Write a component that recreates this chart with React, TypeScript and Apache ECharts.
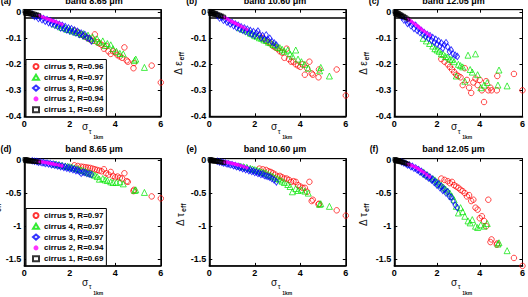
import React, { useEffect, useRef } from 'react';
import * as echarts from 'echarts';

// Band titles, panel tags and tick values
const bandTitles = ['band 8.65 μm', 'band 10.60 μm', 'band 12.05 μm'];
const panelTags = ['(a)', '(b)', '(c)', '(d)', '(e)', '(f)'];
const xTicks = [0, 2, 4, 6];
const epsTicks = [-0.4, -0.3, -0.2, -0.1, 0];
const tauTicks = [-1.5, -1, -0.5, 0];

// Legend entries (cirrus 5 .. cirrus 1) with correlation coefficients
const cirrusIds = [5, 4, 3, 2, 1];
const rEps = [0.96, 0.97, 0.96, 0.94, 0.69];
const rTau = [0.97, 0.97, 0.97, 0.94, 0.69];

// sigma of tau_1km for every pixel of each cirrus case
const sig1 = [0.02, 0.04, 0.06, 0.08, 0.1, 0.12, 0.14, 0.16, 0.18, 0.2, 0.23, 0.26, 0.29, 0.32, 0.36, 0.4, 0.45, 0.5, 0.56, 0.64];
const sig2 = [0.62, 0.72, 0.8, 0.9, 1.0, 1.08, 1.15, 1.22, 1.3, 1.4, 1.52, 1.65];
const sig3 = [0.35, 0.45, 0.55, 0.62, 0.7, 0.78, 0.85, 0.92, 1.0, 1.07, 1.14, 1.2, 1.27, 1.34, 1.4, 1.47, 1.54, 1.6, 1.67, 1.74, 1.8, 1.87, 1.94, 2.0, 2.07, 2.14, 2.2, 2.27, 2.34, 2.42, 2.5, 2.58, 2.66, 2.75, 2.85, 2.95];
const sig4 = [1.35, 1.5, 1.65, 1.8, 1.9, 2.0, 2.1, 2.2, 2.3, 2.4, 2.5, 2.6, 2.7, 2.8, 2.9, 3.0, 3.1, 3.2, 3.3, 3.45, 3.55, 3.65, 3.8, 3.9, 4.05, 4.2, 4.35, 4.85, 4.9, 5.28];
const sig5 = [2.2, 2.35, 2.5, 2.6, 2.7, 2.8, 2.9, 3.0, 3.1, 3.2, 3.3, 3.4, 3.5, 3.6, 3.7, 3.8, 3.9, 4.0, 4.1, 4.2, 4.3, 4.4, 4.5, 4.55, 4.8, 4.82, 5.6, 6.0];

// cirrus 1: delta emissivity / delta optical depth per band
const c1Eps865 = [0.004, -0.004, 0.003, -0.005, 0.002, -0.004, 0.002, -0.006, 0.001, -0.005, -0.001, -0.007, -0.002, -0.008, -0.004, -0.009, -0.006, -0.01, -0.009, -0.012];
const c1Eps1060 = [0.004, -0.005, 0.003, -0.006, 0.001, -0.006, 0, -0.007, -0.001, -0.008, -0.003, -0.009, -0.004, -0.011, -0.007, -0.012, -0.01, -0.014, -0.014, -0.018];
const c1Eps1205 = [0.003, -0.005, 0.002, -0.007, 0, -0.008, -0.002, -0.009, -0.003, -0.011, -0.005, -0.013, -0.008, -0.015, -0.011, -0.017, -0.015, -0.02, -0.021, -0.026];
const c1Tau865 = [0.01, -0.01, 0.008, -0.012, 0.005, -0.013, 0.003, -0.015, 0, -0.016, -0.004, -0.018, -0.008, -0.02, -0.012, -0.022, -0.017, -0.026, -0.024, -0.03];
const c1Tau1060 = [0.01, -0.01, 0.008, -0.012, 0.004, -0.014, 0.001, -0.016, -0.002, -0.018, -0.007, -0.021, -0.011, -0.024, -0.016, -0.028, -0.022, -0.033, -0.032, -0.04];
const c1Tau1205 = [0.01, -0.01, 0.007, -0.013, 0.003, -0.016, -0.001, -0.019, -0.005, -0.022, -0.011, -0.027, -0.017, -0.032, -0.024, -0.038, -0.032, -0.046, -0.05, -0.062];

// cirrus 2
const c2Eps865 = [-0.012, -0.015, -0.018, -0.021, -0.025, -0.027, -0.029, -0.032, -0.034, -0.037, -0.041, -0.046];
const c2Eps1060 = [-0.018, -0.022, -0.026, -0.031, -0.036, -0.039, -0.042, -0.046, -0.049, -0.054, -0.059, -0.066];
const c2Eps1205 = [-0.025, -0.03, -0.035, -0.041, -0.047, -0.052, -0.057, -0.062, -0.067, -0.073, -0.08, -0.088];
const c2Tau865 = [-0.02, -0.025, -0.03, -0.036, -0.042, -0.047, -0.052, -0.057, -0.062, -0.068, -0.077, -0.088];
const c2Tau1060 = [-0.025, -0.03, -0.036, -0.043, -0.051, -0.057, -0.063, -0.069, -0.076, -0.086, -0.1, -0.116];
const c2Tau1205 = [-0.06, -0.07, -0.08, -0.095, -0.11, -0.125, -0.14, -0.155, -0.17, -0.19, -0.22, -0.25];

// cirrus 3
const c3Eps865 = [-0.008, -0.016, -0.015, -0.024, -0.019, -0.029, -0.024, -0.034, -0.028, -0.04, -0.033, -0.045, -0.037, -0.05, -0.042, -0.055, -0.046, -0.06, -0.05, -0.063, -0.055, -0.068, -0.06, -0.072, -0.063, -0.076, -0.068, -0.08, -0.073, -0.085, -0.08, -0.09, -0.085, -0.098, -0.1, -0.11];
const c3Eps1060 = [-0.012, -0.022, -0.02, -0.031, -0.027, -0.038, -0.033, -0.045, -0.039, -0.052, -0.045, -0.058, -0.05, -0.064, -0.056, -0.069, -0.06, -0.074, -0.065, -0.079, -0.07, -0.084, -0.074, -0.089, -0.08, -0.072, -0.085, -0.098, -0.09, -0.103, -0.087, -0.106, -0.1, -0.113, -0.118, -0.126];
const c3Eps1205 = [-0.018, -0.03, -0.03, -0.043, -0.038, -0.052, -0.046, -0.062, -0.05, -0.07, -0.062, -0.078, -0.07, -0.086, -0.078, -0.094, -0.085, -0.1, -0.09, -0.108, -0.097, -0.115, -0.104, -0.122, -0.11, -0.13, -0.118, -0.138, -0.125, -0.117, -0.133, -0.152, -0.145, -0.16, -0.165, -0.17];
const c3Tau865 = [-0.012, -0.02, -0.022, -0.032, -0.03, -0.042, -0.038, -0.052, -0.046, -0.06, -0.054, -0.07, -0.062, -0.08, -0.07, -0.09, -0.08, -0.1, -0.09, -0.112, -0.1, -0.124, -0.112, -0.136, -0.124, -0.148, -0.136, -0.16, -0.15, -0.175, -0.2, -0.185, -0.19, -0.205, -0.21, -0.22];
const c3Tau1060 = [-0.018, -0.028, -0.032, -0.045, -0.044, -0.058, -0.056, -0.072, -0.068, -0.086, -0.082, -0.1, -0.095, -0.115, -0.108, -0.13, -0.122, -0.145, -0.136, -0.16, -0.15, -0.175, -0.165, -0.19, -0.18, -0.205, -0.195, -0.22, -0.21, -0.235, -0.24, -0.25, -0.26, -0.28, -0.3, -0.33];
const c3Tau1205 = [-0.03, -0.045, -0.055, -0.075, -0.075, -0.1, -0.095, -0.125, -0.12, -0.15, -0.145, -0.18, -0.17, -0.21, -0.2, -0.24, -0.23, -0.27, -0.26, -0.3, -0.29, -0.34, -0.33, -0.38, -0.36, -0.42, -0.4, -0.46, -0.44, -0.5, -0.48, -0.55, -0.56, -0.62, -0.68, -0.72];

// cirrus 4
const c4Eps865 = [-0.045, -0.05, -0.058, -0.06, -0.066, -0.065, -0.072, -0.07, -0.078, -0.076, -0.085, -0.082, -0.092, -0.088, -0.1, -0.095, -0.108, -0.102, -0.115, -0.11, -0.128, -0.12, -0.125, -0.14, -0.15, -0.158, -0.16, -0.185, -0.18, -0.212];
const c4Eps1060 = [-0.06, -0.066, -0.072, -0.08, -0.083, -0.09, -0.092, -0.098, -0.1, -0.106, -0.108, -0.115, -0.117, -0.124, -0.126, -0.134, -0.136, -0.142, -0.15, -0.145, -0.16, -0.168, -0.145, -0.18, -0.19, -0.2, -0.215, -0.225, -0.212, -0.245];
const c4Eps1205 = [-0.1, -0.11, -0.12, -0.13, -0.14, -0.145, -0.15, -0.16, -0.162, -0.17, -0.172, -0.18, -0.182, -0.19, -0.245, -0.2, -0.205, -0.21, -0.265, -0.165, -0.22, -0.23, -0.16, -0.24, -0.29, -0.28, -0.27, -0.28, -0.222, -0.283];
const c4Tau865 = [-0.06, -0.07, -0.08, -0.09, -0.095, -0.1, -0.11, -0.12, -0.13, -0.14, -0.15, -0.16, -0.175, -0.19, -0.2, -0.215, -0.23, -0.25, -0.29, -0.28, -0.3, -0.31, -0.33, -0.34, -0.34, -0.33, -0.36, -0.46, -0.45, -0.49];
const c4Tau1060 = [-0.09, -0.1, -0.11, -0.125, -0.135, -0.145, -0.155, -0.165, -0.18, -0.19, -0.2, -0.22, -0.235, -0.25, -0.27, -0.28, -0.3, -0.32, -0.34, -0.37, -0.4, -0.48, -0.43, -0.46, -0.45, -0.47, -0.5, -0.67, -0.66, -0.7];
const c4Tau1205 = [-0.18, -0.22, -0.25, -0.28, -0.3, -0.33, -0.36, -0.38, -0.41, -0.44, -0.47, -0.5, -0.55, -0.6, -0.7, -0.8, -0.72, -0.78, -0.85, -0.92, -0.95, -0.9, -1.0, -1.02, -0.98, -1.0, -0.96, -1.27, -1.25, -1.37];

// cirrus 5
const c5Eps865 = [-0.07, -0.078, -0.085, -0.09, -0.095, -0.1, -0.105, -0.11, -0.085, -0.115, -0.12, -0.125, -0.14, -0.13, -0.15, -0.16, -0.15, -0.155, -0.165, -0.17, -0.175, -0.135, -0.185, -0.19, -0.215, -0.195, -0.205, -0.27];
const c5Eps1060 = [-0.09, -0.1, -0.11, -0.115, -0.12, -0.13, -0.135, -0.14, -0.15, -0.155, -0.175, -0.14, -0.18, -0.19, -0.19, -0.2, -0.205, -0.21, -0.2, -0.24, -0.215, -0.19, -0.235, -0.24, -0.25, -0.22, -0.22, -0.32];
const c5Eps1205 = [-0.18, -0.19, -0.2, -0.21, -0.22, -0.23, -0.24, -0.245, -0.25, -0.28, -0.215, -0.26, -0.29, -0.31, -0.27, -0.255, -0.28, -0.26, -0.3, -0.345, -0.265, -0.3, -0.29, -0.3, -0.3, -0.245, -0.237, -0.3];
const c5Tau865 = [-0.08, -0.09, -0.1, -0.105, -0.11, -0.115, -0.12, -0.13, -0.14, -0.15, -0.16, -0.17, -0.14, -0.2, -0.22, -0.18, -0.24, -0.26, -0.25, -0.27, -0.28, -0.2, -0.32, -0.33, -0.47, -0.45, -0.55, -0.58];
const c5Tau1060 = [-0.13, -0.14, -0.15, -0.17, -0.18, -0.2, -0.22, -0.25, -0.24, -0.26, -0.28, -0.28, -0.3, -0.33, -0.32, -0.33, -0.38, -0.4, -0.42, -0.42, -0.48, -0.33, -0.62, -0.6, -0.67, -0.66, -0.76, -0.84];
const c5Tau1205 = [-0.28, -0.3, -0.32, -0.35, -0.33, -0.38, -0.4, -0.42, -0.45, -0.47, -0.5, -0.55, -0.53, -0.62, -0.6, -0.72, -0.75, -0.88, -0.85, -0.92, -1.0, -0.6, -1.24, -1.2, -1.28, -1.26, -1.48, -1.6];

// Threshold line drawn in the emissivity panels
const epsReference = -0.02;

const FONT = '"Liberation Sans", Arial, Helvetica, sans-serif';

// order: cirrus 5, 4, 3, 2, 1 (later ones drawn on top)
const sigmas = [sig5, sig4, sig3, sig2, sig1];
const panelValues = [
  [c5Eps865, c5Eps1060, c5Eps1205, c5Tau865, c5Tau1060, c5Tau1205],
  [c4Eps865, c4Eps1060, c4Eps1205, c4Tau865, c4Tau1060, c4Tau1205],
  [c3Eps865, c3Eps1060, c3Eps1205, c3Tau865, c3Tau1060, c3Tau1205],
  [c2Eps865, c2Eps1060, c2Eps1205, c2Tau865, c2Tau1060, c2Tau1205],
  [c1Eps865, c1Eps1060, c1Eps1205, c1Tau865, c1Tau1060, c1Tau1205],
];

const markerStyles = [
  { symbol: 'circle', size: 5.5, color: '#ff0000', hollow: true },
  { symbol: 'triangle', size: 6, color: '#00e600', hollow: true },
  { symbol: 'diamond', size: [4.5, 6.5], color: '#0000ff', hollow: true },
  { symbol: 'circle', size: 3.6, color: '#ff00ff', hollow: false },
  { symbol: 'rect', size: 3.6, color: '#000000', hollow: true },
];

const gridLefts = [24.3, 209.3, 394.3];
const gridWidth = 136.5;
const rowTops = [9.7, 158.7];
const rowHeights = [106.6, 107.2];
const rowY = [
  { min: -0.4, max: 0.01, ticks: epsTicks },
  { min: -1.6, max: 0.02, ticks: tauTicks },
];

const seriesName = (k: number, row: number) =>
  `cirrus ${cirrusIds[k]}, R=${(row === 0 ? rEps : rTau)[k].toFixed(2)}`;

function buildOption() {
  const grid: any[] = [];
  const xAxis: any[] = [];
  const yAxis: any[] = [];
  const series: any[] = [];
  const graphic: any[] = [];
  const labelStyle = { fontSize: 9, fontWeight: 'bold', color: '#000', fontFamily: FONT };

  for (let p = 0; p < 6; p++) {
    const row = p < 3 ? 0 : 1;
    const col = p % 3;
    const yr = rowY[row];
    grid.push({
      left: gridLefts[col],
      top: rowTops[row],
      width: gridWidth,
      height: rowHeights[row],
      show: true,
      borderColor: '#000',
      borderWidth: 1,
      backgroundColor: '#fff',
    });
    xAxis.push({
      gridIndex: p, type: 'value', min: 0, max: 6, position: 'bottom',
      axisLine: { show: true, onZero: false, lineStyle: { color: '#000', width: 1.6 } },
      axisTick: { show: true, inside: true, length: 3, customValues: xTicks, lineStyle: { color: '#000' } },
      axisLabel: { ...labelStyle, margin: 3, customValues: xTicks },
      splitLine: { show: false },
    });
    xAxis.push({
      gridIndex: p, type: 'value', min: 0, max: 6, position: 'top',
      axisLine: { show: true, onZero: false, lineStyle: { color: '#000', width: 1 } },
      axisTick: { show: true, inside: true, length: 3, customValues: xTicks, lineStyle: { color: '#000' } },
      axisLabel: { show: false },
      splitLine: { show: false },
    });
    yAxis.push({
      gridIndex: p, type: 'value', min: yr.min, max: yr.max, position: 'left',
      axisLine: { show: true, onZero: false, lineStyle: { color: '#000', width: 1.6 } },
      axisTick: { show: true, inside: true, length: 3, customValues: yr.ticks, lineStyle: { color: '#000' } },
      axisLabel: { ...labelStyle, margin: 3, customValues: yr.ticks },
      splitLine: { show: false },
    });
    yAxis.push({
      gridIndex: p, type: 'value', min: yr.min, max: yr.max, position: 'right',
      axisLine: { show: true, onZero: false, lineStyle: { color: '#000', width: 1 } },
      axisTick: { show: true, inside: true, length: 3, customValues: yr.ticks, lineStyle: { color: '#000' } },
      axisLabel: { show: false },
      splitLine: { show: false },
    });

    for (let k = 0; k < 5; k++) {
      const m = markerStyles[k];
      const xs = sigmas[k];
      const ys = panelValues[k][p];
      const s: any = {
        type: 'scatter',
        name: seriesName(k, row),
        xAxisIndex: p * 2,
        yAxisIndex: p * 2,
        data: xs.map((x, i) => [x, ys[i]]),
        symbol: m.symbol,
        symbolSize: m.size,
        silent: true,
        z: 3 + k,
        itemStyle: m.hollow
          ? { color: 'rgba(255,255,255,0)', borderColor: m.color, borderWidth: 0.9 }
          : { color: m.color },
      };
      if (row === 0 && k === 0) {
        s.markLine = {
          silent: true,
          symbol: ['none', 'none'],
          label: { show: false },
          lineStyle: { color: '#000', width: 1.6, type: 'solid' },
          data: [{ yAxis: epsReference }],
        };
      }
      series.push(s);
    }
  }

  // Titles and panel tags
  const titleX = [94, 275, 453.5];
  const tagX = [6, 191.7, 374];
  const titleY = [0.5, 149];
  for (let row = 0; row < 2; row++) {
    for (let col = 0; col < 3; col++) {
      graphic.push({
        type: 'text', x: titleX[col], y: titleY[row], silent: true,
        style: { text: bandTitles[col], fontSize: 9, fontWeight: 'bold', fontFamily: FONT, fill: '#000', align: 'center', verticalAlign: 'middle' },
      });
      graphic.push({
        type: 'text', x: tagX[col], y: titleY[row], silent: true,
        style: { text: panelTags[row * 3 + col], fontSize: 8.5, fontWeight: 'bold', fontFamily: FONT, fill: '#000', align: 'center', verticalAlign: 'middle' },
      });
    }
  }

  // x-axis names: sigma with nested subscripts
  const sigX = [85, 274, 454];
  const sigY = [126.5, 282];
  for (let row = 0; row < 2; row++) {
    for (let col = 0; col < 3; col++) {
      const x0 = sigX[col];
      const y0 = sigY[row];
      graphic.push({ type: 'text', x: x0, y: y0, silent: true, style: { text: 'σ', fontSize: 10, fontFamily: FONT, fill: '#111', align: 'center', verticalAlign: 'middle' } });
      graphic.push({ type: 'text', x: x0 + 5, y: y0 + 4.8, silent: true, style: { text: 'τ', fontSize: 7, fontFamily: FONT, fill: '#111', align: 'center', verticalAlign: 'middle' } });
      graphic.push({ type: 'text', x: x0 + 13.3, y: y0 + 10.5, silent: true, style: { text: '1km', fontSize: 5, fontWeight: 'bold', fontFamily: FONT, fill: '#111', align: 'center', verticalAlign: 'middle' } });
    }
  }

  // y-axis names, rotated
  const yNameX = [[-6.7, 178.5, 363.3], [-5, 180, 363.3]];
  const yNameY = [68, 219.5];
  const yNameMain = ['Δ ε', 'Δ τ'];
  for (let row = 0; row < 2; row++) {
    for (let col = 0; col < 3; col++) {
      graphic.push({
        type: 'group', x: yNameX[row][col], y: yNameY[row], rotation: Math.PI / 2, silent: true,
        children: [
          { type: 'text', x: 0, y: 0, style: { text: yNameMain[row], fontSize: 10, fontFamily: FONT, fill: '#111', align: 'center', verticalAlign: 'middle' } },
          { type: 'text', x: 7.5, y: 3, style: { text: 'eff', fontSize: 7, fontWeight: 'bold', fontFamily: FONT, fill: '#111', align: 'left', verticalAlign: 'middle' } },
        ],
      });
    }
  }

  const legendBase = {
    orient: 'vertical',
    left: 26,
    itemWidth: 6,
    itemHeight: 5,
    itemGap: 0.8,
    padding: [2, 3, 2, 6],
    borderColor: '#000',
    borderWidth: 1,
    backgroundColor: '#fff',
    selectedMode: false,
    z: 20,
    textStyle: { fontSize: 8, fontWeight: 'bold', color: '#000', fontFamily: FONT, lineHeight: 10 },
  };
  const legend = [
    { ...legendBase, top: 59.5, data: [0, 1, 2, 3, 4].map((k) => seriesName(k, 0)) },
    { ...legendBase, top: 208.5, data: [0, 1, 2, 3, 4].map((k) => seriesName(k, 1)) },
  ];

  return {
    animation: false,
    backgroundColor: '#fff',
    grid,
    xAxis,
    yAxis,
    series,
    legend,
    graphic,
  };
}

export default function App() {
  const ref = useRef<HTMLDivElement>(null);
  useEffect(() => {
    if (!ref.current) return;
    const chart = echarts.init(ref.current, undefined, { renderer: 'svg' });
    chart.setOption(buildOption() as any);
    return () => chart.dispose();
  }, []);
  return (
    <div
      ref={ref}
      style={{ position: 'fixed', left: 0, top: 0, width: 528, height: 297, background: '#fff' }}
    />
  );
}
